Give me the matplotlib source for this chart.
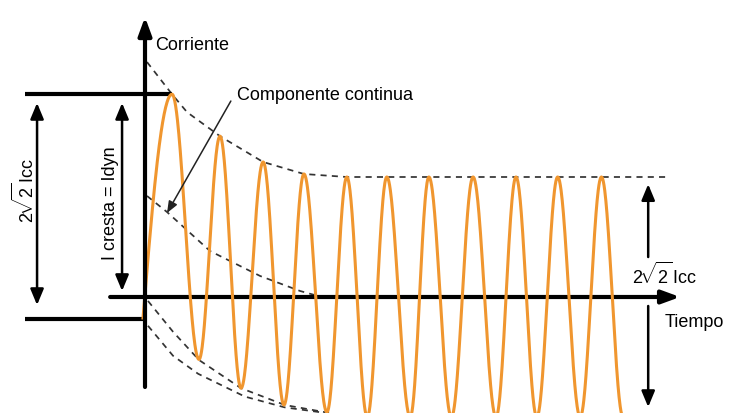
import numpy as np
import matplotlib
matplotlib.use('Agg')
import matplotlib.pyplot as plt

plt.rcParams['font.family'] = ['Liberation Sans', 'DejaVu Sans']
plt.rcParams['mathtext.fontset'] = 'custom'
plt.rcParams['mathtext.rm'] = 'Liberation Sans'
plt.rcParams['mathtext.it'] = 'Liberation Sans:italic'

# Tiempo en periodos de red, corriente en unidades de la cresta permanente (sqrt(2)*Icc)
# Extremos de la corriente de cortocircuito (inicio, crestas y valles alternados)
t_ext = [-0.047, 0.635, 1.27, 1.765, 2.26, 2.78, 3.27, 3.74, 4.28, 4.75, 5.23,
         5.69, 6.24, 6.68, 7.21, 7.72, 8.26, 8.73, 9.22, 9.71, 10.24, 10.74, 11.25]
i_ext = [-0.175, 1.69, -0.52, 1.34, -0.76, 1.125, -0.90, 1.025, -0.96, 1.0, -1.0,
         1.0, -1.0, 1.0, -1.0, 1.0, -1.0, 1.0, -1.0, 1.0, -1.0, 1.0, -1.0]

# Envolvente superior
env_sup_t = [0.047, 0.635, 0.99, 1.765, 2.78, 3.74, 4.75, 12.31]
env_sup_i = [1.958, 1.69, 1.54, 1.34, 1.125, 1.025, 1.0, 1.0]

# Componente continua
cc_t = [0.047, 0.518, 1.53, 2.71, 3.65, 4.16]
cc_i = [0.842, 0.708, 0.383, 0.175, 0.05, 0.0]

# Envolventes inferiores
env_inf1_t = [0.07, 0.66, 1.27, 2.26, 3.29, 4.35, 4.8]
env_inf1_i = [-0.033, -0.29, -0.525, -0.76, -0.90, -0.967, -1.0]
env_inf2_t = [0.07, 0.66, 1.25, 2.35, 3.29, 4.12, 4.6]
env_inf2_i = [-0.24, -0.49, -0.64, -0.83, -0.92, -0.96, -1.0]

naranja = '#F0962F'
gris = '#333333'

# Curva: semiondas entre extremos consecutivos
tt, ii = [], []
s = np.linspace(0, 1, 60)
for k in range(len(t_ext) - 1):
    if k == 0:
        forma = np.sin(s * np.pi / 2)
    else:
        forma = (1 - np.cos(np.pi * s)) / 2
    tt.append(t_ext[k] + (t_ext[k + 1] - t_ext[k]) * s)
    ii.append(i_ext[k] + (i_ext[k + 1] - i_ext[k]) * forma)
tt = np.concatenate(tt)
ii = np.concatenate(ii)

fig = plt.figure(figsize=(7.3, 4.14), dpi=100)
ax = fig.add_axes([0, 0, 1, 1])
ax.set_xlim(-3.412, 13.765)
ax.set_ylim(-0.9667, 2.4833)
ax.axis('off')

dash = dict(color=gris, lw=1.25, linestyle=(0, (3.5, 3)))
ax.plot(env_sup_t, env_sup_i, **dash)
ax.plot(cc_t, cc_i, **dash)
ax.plot(env_inf1_t, env_inf1_i, **dash)
ax.plot(env_inf2_t, env_inf2_i, **dash)

# Barras horizontales de referencia
ax.plot([-2.82, 0.635], [1.69, 1.69], color='black', lw=3, solid_capstyle='butt')
ax.plot([-2.82, 0.0], [-0.183, -0.183], color='black', lw=3, solid_capstyle='butt')

ax.plot(tt, ii, color=naranja, lw=2.2, zorder=3)

# Ejes con flecha
ejes = dict(arrowstyle='-|>,head_length=0.6,head_width=0.22', lw=3, color='black',
            shrinkA=0, shrinkB=0, mutation_scale=18)
ax.annotate('', xy=(0, 2.333), xytext=(0, -0.75), arrowprops=ejes, zorder=4)
ax.annotate('', xy=(12.59, 0), xytext=(-0.82, 0), arrowprops=ejes, zorder=2)

# Cotas
cota = dict(arrowstyle='<|-|>,head_length=0.6,head_width=0.25', lw=1.8, color='black',
            shrinkA=0, shrinkB=0, mutation_scale=16)
ax.annotate('', xy=(-2.54, 1.617), xytext=(-2.54, -0.067), arrowprops=cota)
ax.annotate('', xy=(-0.54, 1.617), xytext=(-0.54, 0.05), arrowprops=cota)
flecha = dict(arrowstyle='-|>,head_length=0.6,head_width=0.25', lw=1.8, color='black',
              shrinkA=0, shrinkB=0, mutation_scale=16)
ax.annotate('', xy=(11.84, 0.94), xytext=(11.84, 0.333), arrowprops=flecha)
ax.annotate('', xy=(11.84, -0.917), xytext=(11.84, -0.075), arrowprops=flecha)

# Indicador de la componente continua
ax.annotate('', xy=(0.518, 0.70), xytext=(2.02, 1.633),
            arrowprops=dict(arrowstyle='-|>,head_length=0.5,head_width=0.2', lw=1.1,
                            color='#222222', shrinkA=0, shrinkB=0, mutation_scale=14))

fs = 13
etiqueta_icc = r'$2\!\sqrt{2}\,$Icc'
ax.text(0.235, 2.108, 'Corriente', fontsize=fs, va='center', ha='left')
ax.text(2.165, 1.69, 'Componente continua', fontsize=fs, va='center', ha='left')
ax.text(12.235, -0.208, 'Tiempo', fontsize=fs, va='center', ha='left')
ax.text(11.46, 0.19, etiqueta_icc, fontsize=fs, va='center', ha='left')
ax.text(-2.82, 0.9, etiqueta_icc, fontsize=fs, va='center', ha='center', rotation=90)
ax.text(-0.82, 0.79, 'I cresta = Idyn', fontsize=fs, va='center', ha='center', rotation=90)

plt.savefig('out.png', dpi=100)
